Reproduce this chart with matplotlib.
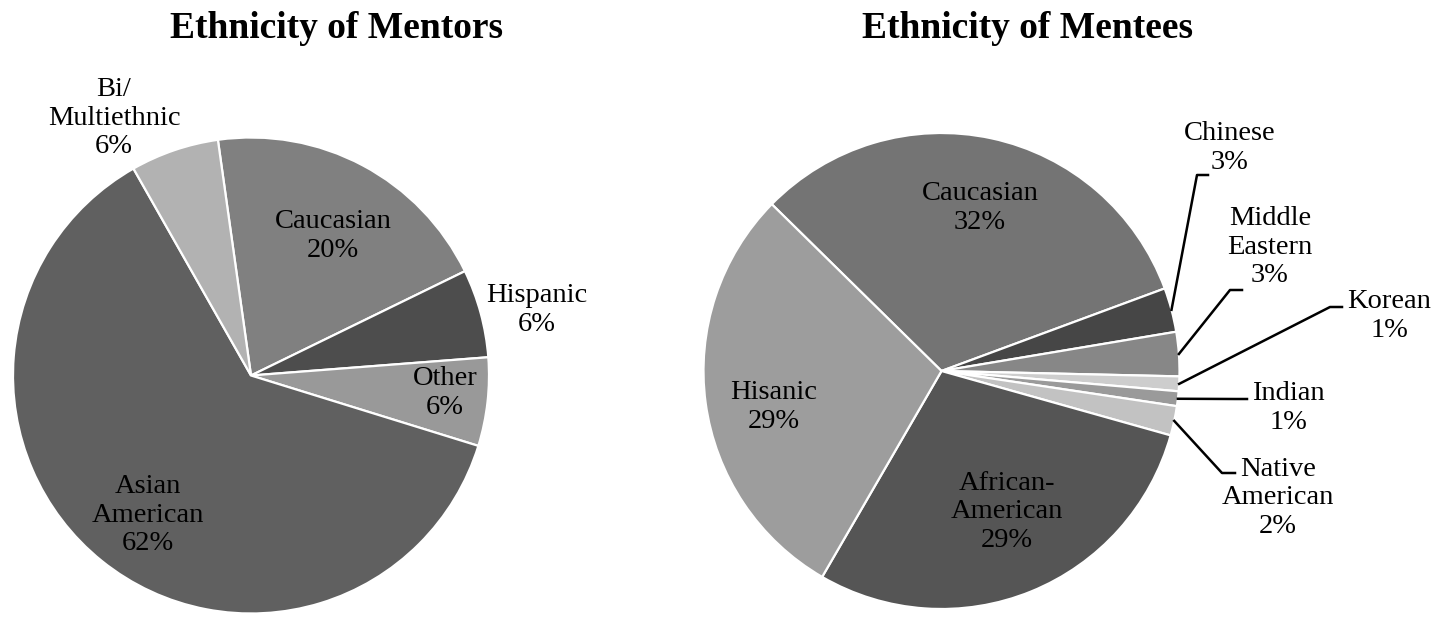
import numpy as np
import matplotlib.pyplot as plt

plt.rcParams['font.family'] = ['Liberation Serif', 'DejaVu Serif']

W, H = 1447, 618

# data: mentors
mentor_labels = ["Caucasian", "Hispanic", "Other", "Asian\nAmerican", "Bi/\nMultiethnic"]
mentor_pct = [20, 6, 6, 62, 6]
mentor_colors = ["#808080", "#4d4d4d", "#999999", "#606060", "#b2b2b2"]

# data: mentees
mentee_labels = ["Caucasian", "Chinese", "Middle\nEastern", "Korean", "Indian",
                 "Native\nAmerican", "African-\nAmerican", "Hisanic"]
mentee_pct = [32, 3, 3, 1, 1, 2, 29, 29]
mentee_colors = ["#747474", "#464646", "#878787", "#cdcdcd", "#9a9a9a",
                 "#c2c2c2", "#555555", "#9d9d9d"]

# layout (pixels in the output image)
mentor_pos = {"Caucasian": (333, 236), "Hispanic": (537, 310), "Other": (445, 393),
              "Asian\nAmerican": (148, 515), "Bi/\nMultiethnic": (114, 118)}
mentee_pos = {"Caucasian": (980, 208), "Chinese": (1230, 148), "Middle\nEastern": (1270, 247),
              "Korean": (1389, 316), "Indian": (1288, 408), "Native\nAmerican": (1278, 498),
              "African-\nAmerican": (1007, 512), "Hisanic": (774, 407)}
mentee_leaders = {"Chinese": [(1197, 175), (1208, 175)],
                  "Middle\nEastern": [(1230, 290), (1242, 290)],
                  "Korean": [(1330, 307), (1342, 307)],
                  "Indian": [(1235, 399), (1247, 399)],
                  "Native\nAmerican": [(1222, 473), (1235, 473)]}

fig = plt.figure(figsize=(W / 100, H / 100), dpi=100)
FS = 20.5


def draw_pie(cx, cy, r, values, labels, colors, start, pos, leaders={}):
    ax = fig.add_axes([(cx - r) / W, (H - cy - r) / H, 2 * r / W, 2 * r / H])
    wedges, _ = ax.pie(values, colors=colors, startangle=start, counterclock=False,
                       radius=1, wedgeprops=dict(edgecolor='white', linewidth=1.6))
    ax.set_xlim(-1, 1)
    ax.set_ylim(-1, 1)
    ax.axis('off')

    def to_data(p):
        return ((p[0] - cx) / r, (cy - p[1]) / r)

    for w, lab, v in zip(wedges, labels, values):
        x, y = to_data(pos[lab])
        ax.text(x, y, f"{lab}\n{v}%", ha='center', va='center', fontsize=FS,
                linespacing=1.18)
        if lab in leaders:
            mid = np.deg2rad((w.theta1 + w.theta2) / 2)
            pts = [(np.cos(mid), np.sin(mid))] + [to_data(p) for p in leaders[lab]]
            xs, ys = zip(*pts)
            ax.plot(xs, ys, color='black', lw=1.8, clip_on=False)
    return ax


draw_pie(251, 375.5, 238, mentor_pct, mentor_labels, mentor_colors, 98, mentor_pos)
draw_pie(941.5, 371, 238, mentee_pct, mentee_labels, mentee_colors, 135.5, mentee_pos,
         mentee_leaders)

fig.text(336 / W, 1 - 38 / H, "Ethnicity of Mentors", ha='center', va='baseline',
         fontsize=27, fontweight='bold')
fig.text(1027 / W, 1 - 38 / H, "Ethnicity of Mentees", ha='center', va='baseline',
         fontsize=27, fontweight='bold')

fig.savefig('out.png', dpi=100)
